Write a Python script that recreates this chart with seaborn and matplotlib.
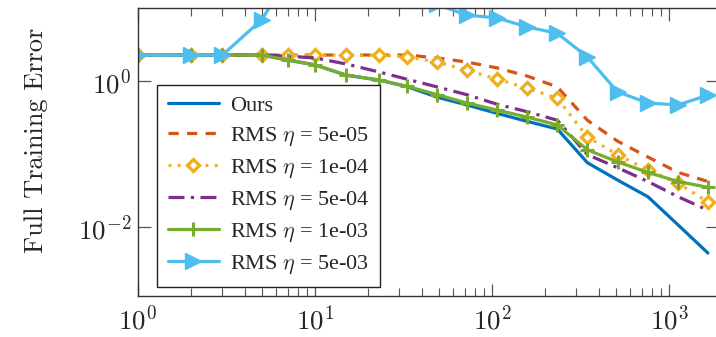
import numpy as np
import pandas as pd
import matplotlib
matplotlib.use("Agg")
import matplotlib.pyplot as plt
import seaborn as sns
from matplotlib.ticker import FixedLocator, FuncFormatter, LogLocator, NullLocator

# ---- data ----
iters = [1, 2, 3, 5, 7, 10, 15, 23, 33, 49, 72, 107, 158, 234, 346, 512, 760, 1125, 1660]

ours = [2.27, 2.27, 2.27, 2.27, 1.94, 1.66, 1.20, 1.03, 0.84, 0.60, 0.47, 0.36, 0.28, 0.22,
        0.076, 0.044, 0.026, 0.0107, 0.0044]
rms_5e5 = [2.27, 2.27, 2.27, 2.27, 2.27, 2.27, 2.27, 2.27, 2.27, 2.07, 1.82, 1.51, 1.17, 0.83,
           0.29, 0.15, 0.091, 0.056, 0.042]
rms_1e4 = [2.27, 2.27, 2.27, 2.27, 2.27, 2.27, 2.27, 2.27, 2.14, 1.82, 1.41, 1.06, 0.80, 0.58,
           0.171, 0.098, 0.060, 0.040, 0.022]
rms_5e4 = [2.27, 2.27, 2.27, 2.27, 2.19, 2.07, 1.71, 1.33, 1.06, 0.83, 0.65, 0.48, 0.38, 0.29,
           0.098, 0.065, 0.042, 0.026, 0.017]
rms_1e3 = [2.27, 2.27, 2.27, 2.27, 1.94, 1.66, 1.21, 1.03, 0.85, 0.65, 0.50, 0.40, 0.32, 0.25,
           0.114, 0.078, 0.056, 0.042, 0.035]
rms_5e3 = [2.27, 2.27, 2.27, 6.9, 25.0, 40.0, 50.0, 40.0, 25.0, 11.2, 8.0, 7.3, 5.5, 4.5,
           2.13, 0.71, 0.50, 0.47, 0.64]

labels = ["Ours", r"RMS $\eta$ = 5e-05", r"RMS $\eta$ = 1e-04", r"RMS $\eta$ = 5e-04",
          r"RMS $\eta$ = 1e-03", r"RMS $\eta$ = 5e-03"]
series = [ours, rms_5e5, rms_1e4, rms_5e4, rms_1e3, rms_5e3]

x_ticks = [1, 10, 100, 1000]
y_ticks = [1e-2, 1e0]

# ---- styles ----
colors = ["#0072BD", "#D95319", "#EDB120", "#7E2F8E", "#77AC30", "#4DBEEE"]
styles = [
    dict(linestyle="-", marker=None),
    dict(linestyle=(0, (3.2, 2.6)), marker=None),
    dict(linestyle=(0, (0.9, 2.0)), marker="D", markersize=6.5, markerfacecolor="white",
         markeredgewidth=2.4),
    dict(linestyle=(0, (5, 2, 1, 2)), marker=None),
    dict(linestyle="-", marker="+", markersize=10, markeredgewidth=2.2),
    dict(linestyle="-", marker=">", markersize=11.5, markeredgewidth=1.0),
]

sns.set_style("ticks")
plt.rcParams["mathtext.fontset"] = "cm"
plt.rcParams["font.family"] = ["Liberation Serif", "DejaVu Serif"]

fig = plt.figure(figsize=(7.16, 3.37), dpi=100)
ax = fig.add_axes([138 / 716, 41 / 337, 580 / 716, 288 / 337])

for lab, ys, c, st in zip(labels, series, colors, styles):
    df = pd.DataFrame({"x": iters, "y": ys})
    kw = dict(st)
    mk = kw.pop("marker")
    ls = kw.pop("linestyle")
    line_kw = dict(color=c, linewidth=2.3, label=lab)
    if mk is not None:
        line_kw["marker"] = mk
        if "markerfacecolor" not in kw:
            kw["markerfacecolor"] = c
        kw["markeredgecolor"] = c
    sns.lineplot(data=df, x="x", y="y", ax=ax, estimator=None, sort=False, **line_kw, **kw)
    ax.lines[-1].set_linestyle(ls)

ax.set_xscale("log")
ax.set_yscale("log")
ax.set_xlim(1, 10 ** 3.277)
ax.set_ylim(10 ** -2.945, 10 ** 1.0)

ax.xaxis.set_major_locator(FixedLocator(x_ticks))
ax.xaxis.set_minor_locator(LogLocator(base=10, subs=np.arange(2, 10), numticks=20))
ax.yaxis.set_major_locator(FixedLocator(y_ticks))
ax.yaxis.set_minor_locator(NullLocator())
fmt = FuncFormatter(lambda v, p: r"$10^{%d}$" % int(round(np.log10(v))))
ax.xaxis.set_major_formatter(fmt)
ax.yaxis.set_major_formatter(fmt)

ax.tick_params(which="both", direction="in", top=True, right=True, color="#555555",
               labelsize=19.5)
ax.tick_params(axis="y", pad=5)
ax.tick_params(axis="x", pad=7)
ax.tick_params(which="major", length=9, width=0.9)
ax.tick_params(which="minor", length=5.5, width=0.8)

for s in ax.spines.values():
    s.set_color("#333333")
    s.set_linewidth(1.0)

ax.set_xlabel("")
ax.set_ylabel("Full Training Error", family="cmr10", fontsize=19)
ax.yaxis.set_label_coords(-0.155, 0.54)

leg = ax.legend(loc="upper left", bbox_to_anchor=(0.033, 0.733), borderaxespad=0,
                fontsize=16, frameon=True, fancybox=False, framealpha=1,
                edgecolor="#222222", handlelength=2.3, handletextpad=0.5,
                labelspacing=0.41, borderpad=0.48)
leg.get_frame().set_linewidth(1.0)

fig.savefig("out.png", dpi=100)
